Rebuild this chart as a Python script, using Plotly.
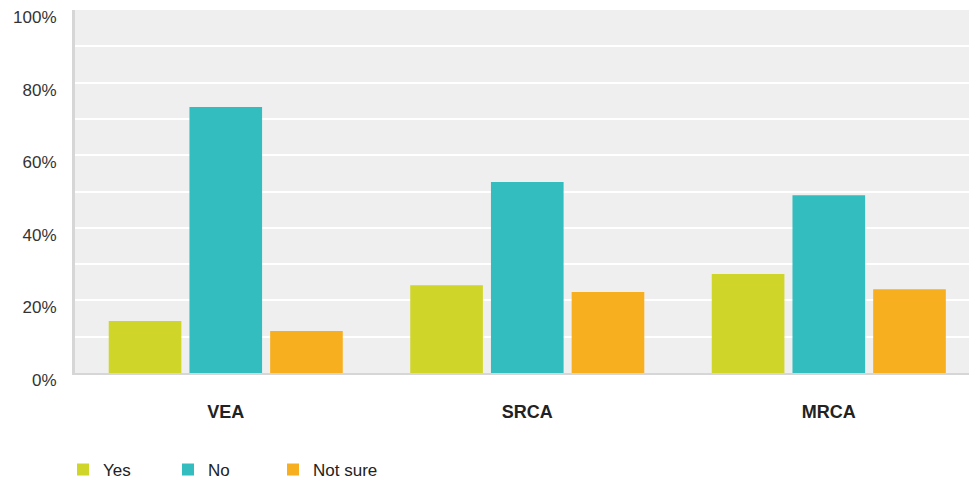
import plotly.graph_objects as go

categories = ["VEA", "SRCA", "MRCA"]
yes_vals = [0.143, 0.242, 0.273]
no_vals = [0.733, 0.526, 0.490]
notsure_vals = [0.116, 0.223, 0.231]
series_names = ["Yes", "No", "Not sure"]
colors = ["#d0d529", "#34bdbf", "#f7af1f"]
ytick_vals = [0, 0.2, 0.4, 0.6, 0.8, 1.0]
ytick_text = ["0%", "20%", "40%", "60%", "80%", "100%"]

fig = go.Figure()
for name, vals, c in zip(series_names, [yes_vals, no_vals, notsure_vals], colors):
    fig.add_trace(go.Bar(x=categories, y=vals, name=name, marker=dict(color=c, line=dict(width=0))))

fig.update_layout(
    width=969, height=483,
    margin=dict(l=75, r=0, t=10, b=110, autoexpand=False),
    paper_bgcolor="white",
    plot_bgcolor="#efefef",
    barmode="group",
    bargap=0.197,
    bargroupgap=0.1,
    font=dict(family="Liberation Sans, Arial, sans-serif", size=17, color="#333333"),
    showlegend=True,
    legend=dict(orientation="h", x=-0.0134, xanchor="left", y=0.027, yref="container", yanchor="middle",
                font=dict(size=17, color="#222222"), entrywidth=60, entrywidthmode="pixels",
                traceorder="normal", bgcolor="rgba(0,0,0,0)"),
)
fig.update_xaxes(
    range=[-0.5, 2.465], showgrid=False, showline=True, linecolor="#d6d6d6", linewidth=2,
    tickfont=dict(size=18, color="#222222", family="Liberation Sans, Arial, sans-serif", weight="bold"),
    ticks="", ticklabelstandoff=21, fixedrange=True,
)
fig.update_yaxes(
    range=[0, 1], tickvals=ytick_vals, ticktext=ytick_text, showgrid=True, gridcolor="white", gridwidth=2,
    minor=dict(dtick=0.1, showgrid=True, gridcolor="white", gridwidth=2),
    showline=True, linecolor="#d6d6d6", linewidth=3, zeroline=False, ticks="",
    ticklabelstandoff=12, ticklabelshift=7, tickfont=dict(size=17, color="#333333"),
)

fig.write_html("out.html", config={"displayModeBar": False},
               post_script="document.body.style.margin='0';")
